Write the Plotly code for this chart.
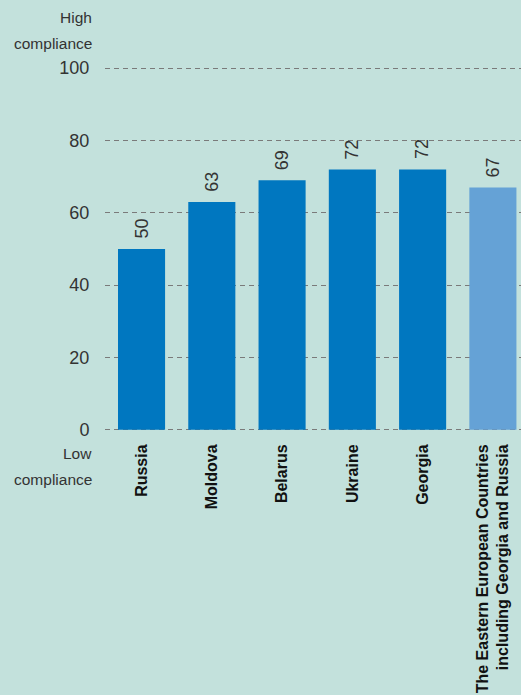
import plotly.graph_objects as go

countries = ["Russia", "Moldova", "Belarus", "Ukraine", "Georgia",
             "The Eastern European Countries<br>including Georgia and Russia"]
scores = [50, 63, 69, 72, 72, 67]
bar_colors = ["#0077c0"] * 5 + ["#65a2d6"]
y_ticks = [0, 20, 40, 60, 80, 100]

bg = "#c3e1dc"
txt = "#333333"

fig = go.Figure()
fig.add_trace(go.Bar(
    x=countries, y=scores,
    marker=dict(color=bar_colors, line=dict(width=0)),
    cliponaxis=False,
))

# value labels above the bars, rotated
for c, v in zip(countries, scores):
    fig.add_annotation(x=c, y=v, text=str(v), showarrow=False, textangle=-90,
                       xanchor="center", yanchor="bottom", yshift=8,
                       font=dict(size=18, color=txt))

fig.update_layout(
    width=521, height=695,
    margin=dict(l=105, r=0, t=66, b=263),
    paper_bgcolor=bg, plot_bgcolor=bg,
    bargap=0.33, showlegend=False,
    font=dict(family="Liberation Sans", color=txt),
)
fig.update_xaxes(
    range=[-0.52, 5.4], tickangle=-90, showgrid=False, zeroline=False,
    automargin=False,
    tickfont=dict(size=16, color="#111111", family="Liberation Sans", weight="bold"),
    ticks="outside", ticklen=5, tickcolor="rgba(0,0,0,0)",
)
fig.update_yaxes(
    range=[-0.6, 100.6], tickvals=y_ticks, zeroline=False, automargin=False,
    showgrid=True, gridcolor="#7a7a7a", griddash="5px,4px", gridwidth=1,
    tickfont=dict(size=18, color=txt),
    ticks="outside", ticklen=11, tickcolor="rgba(0,0,0,0)",
)

for label, yshift in [("High", 49), ("compliance", 23)]:
    fig.add_annotation(xref="paper", yref="paper", x=0, y=1, text=label,
                       showarrow=False, xanchor="right", yanchor="middle",
                       xshift=-11, yshift=yshift, font=dict(size=15.5, color=txt))
for label, yshift in [("Low", -21), ("compliance", -47)]:
    fig.add_annotation(xref="paper", yref="paper", x=0, y=0, text=label,
                       showarrow=False, xanchor="right", yanchor="middle",
                       xshift=-11, yshift=yshift, font=dict(size=15.5, color=txt))

fig.write_html("out.html", config={"displayModeBar": False},
               post_script="document.body.style.margin='0';")
